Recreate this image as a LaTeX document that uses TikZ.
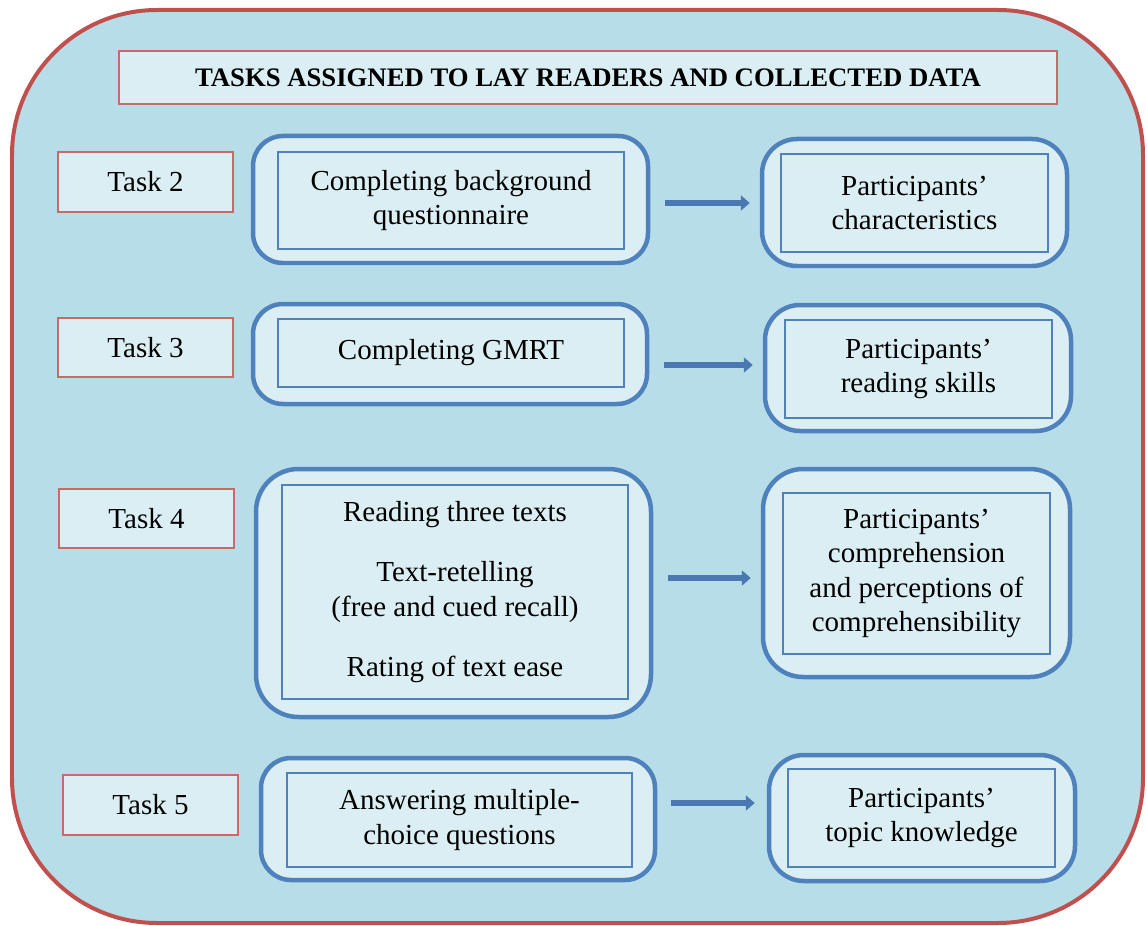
\documentclass[tikz,border=0pt]{standalone}
\usepackage{fontspec}
\setmainfont{Liberation Serif}
\usetikzlibrary{fit}
\usetikzlibrary{arrows.meta}
\definecolor{panelblue}{HTML}{B7DDE8}
\definecolor{boxfill}{HTML}{DAEEF3}
\definecolor{framered}{HTML}{C0504D}
\definecolor{frameblue}{HTML}{4F81BD}
\definecolor{arrowblue}{HTML}{4A78B0}
\tikzset{
panel/.style={ % Sets the big rounded background
draw=framered,
line width=0.08cm,
fill=panelblue,
rounded corners=2.9cm},
taskbox/.style={ % Sets the small red label boxes
draw=framered!85,
line width=0.8pt,
fill=boxfill,
inner sep=0pt},
roundframe/.style={ % Thick blue rounded frame round each box
draw=frameblue,
line width=0.09cm,
fill=boxfill,
inner sep=0pt,
rounded corners=0.6cm},
innerbox/.style={ % Thin rectangle holding the text
draw=frameblue,
line width=0.6pt,
fill=boxfill,
inner sep=0pt},
boxtext/.style={ % The text set in the middle of a box
align=center,
inner sep=0pt,
font=\fontsize{16.5}{19.5}\selectfont},
flow/.style={ % Block style arrows between the columns
draw=arrowblue,
line width=0.11cm,
-{Triangle[length=0.18cm, width=0.3cm]}}}

\begin{document}
\begin{tikzpicture}[x=0.02cm, y=-0.02cm]
	\useasboundingbox (0,0) rectangle (1147,926);
	\clip (0,0) rectangle (1147,926);
	\draw[panel] (12,10) rectangle (1143,923);
	% title
	\node[taskbox, fit={(119,51) (1057,104)}, label={[boxtext, font=\bfseries\fontsize{15.2}{18}\selectfont]center:TASKS ASSIGNED TO LAY READERS AND COLLECTED DATA}] (title) {};
	% task labels
	\node[taskbox, fit={(58,152) (233,212)}, label={[boxtext]center:Task 2}] (task2) {};
	\node[taskbox, fit={(58,318) (233,377)}, label={[boxtext]center:Task 3}] (task3) {};
	\node[taskbox, fit={(59,489) (234,548)}, label={[boxtext]center:Task 4}] (task4) {};
	\node[taskbox, fit={(63,775) (238,835)}, label={[boxtext]center:Task 5}] (task5) {};
	% what the readers did
	\node[roundframe, fit={(253,136) (648,263)}] (doframe2) {};
	\node[innerbox, fit={(278,152) (624,249)}, label={[boxtext]center:Completing background\\questionnaire}] (do2) {};
	\node[roundframe, fit={(253,304) (647,404)}] (doframe3) {};
	\node[innerbox, fit={(278,319) (624,387)}, label={[boxtext]center:Completing GMRT}] (do3) {};
	\node[roundframe, rounded corners=0.85cm, fit={(256,469) (651,717)}] (doframe4) {};
	\node[innerbox, fit={(282,485) (628,699)}, label={[boxtext]center:Reading three texts\\[0.52cm]Text-retelling\\(free and cued recall)\\[0.52cm]Rating of text ease}] (do4) {};
	\node[roundframe, fit={(261,758) (655,880)}] (doframe5) {};
	\node[innerbox, fit={(287,773) (632,867)}, label={[boxtext]center:Answering multiple-\\choice questions}] (do5) {};
	% what was collected
	\node[roundframe, rounded corners=0.7cm, fit={(762,139) (1067,266)}] (dataframe2) {};
	\node[innerbox, fit={(781,154) (1048,252)}, label={[boxtext]center:Participants’\\characteristics}] (data2) {};
	\node[roundframe, rounded corners=0.7cm, fit={(765,305) (1071,431)}] (dataframe3) {};
	\node[innerbox, fit={(785,320) (1052,418)}, label={[boxtext]center:Participants’\\reading skills}] (data3) {};
	\node[roundframe, rounded corners=0.8cm, fit={(763,469) (1070,677)}] (dataframe4) {};
	\node[innerbox, fit={(783,493) (1050,654)}, label={[boxtext]center:Participants’\\comprehension\\and perceptions of\\comprehensibility}] (data4) {};
	\node[roundframe, rounded corners=0.7cm, fit={(769,755) (1075,881)}] (dataframe5) {};
	\node[innerbox, fit={(788,769) (1055,867)}, label={[boxtext]center:Participants’\\topic knowledge}] (data5) {};
	% arrows
	\draw[flow] ([xshift=0.3cm, yshift=-0.07cm]doframe2.east) -- ([xshift=-0.2cm, yshift=-0.07cm]doframe2.east -| dataframe2.west);
	\draw[flow] ([xshift=0.3cm, yshift=-0.22cm]doframe3.east) -- ([xshift=-0.2cm, yshift=-0.22cm]doframe3.east -| dataframe3.west);
	\draw[flow] ([xshift=0.3cm, yshift=0.3cm]doframe4.east) -- ([xshift=-0.2cm, yshift=0.3cm]doframe4.east -| dataframe4.west);
	\draw[flow] ([xshift=0.28cm, yshift=0.32cm]doframe5.east) -- ([xshift=-0.24cm, yshift=0.32cm]doframe5.east -| dataframe5.west);
\end{tikzpicture}
\end{document}
